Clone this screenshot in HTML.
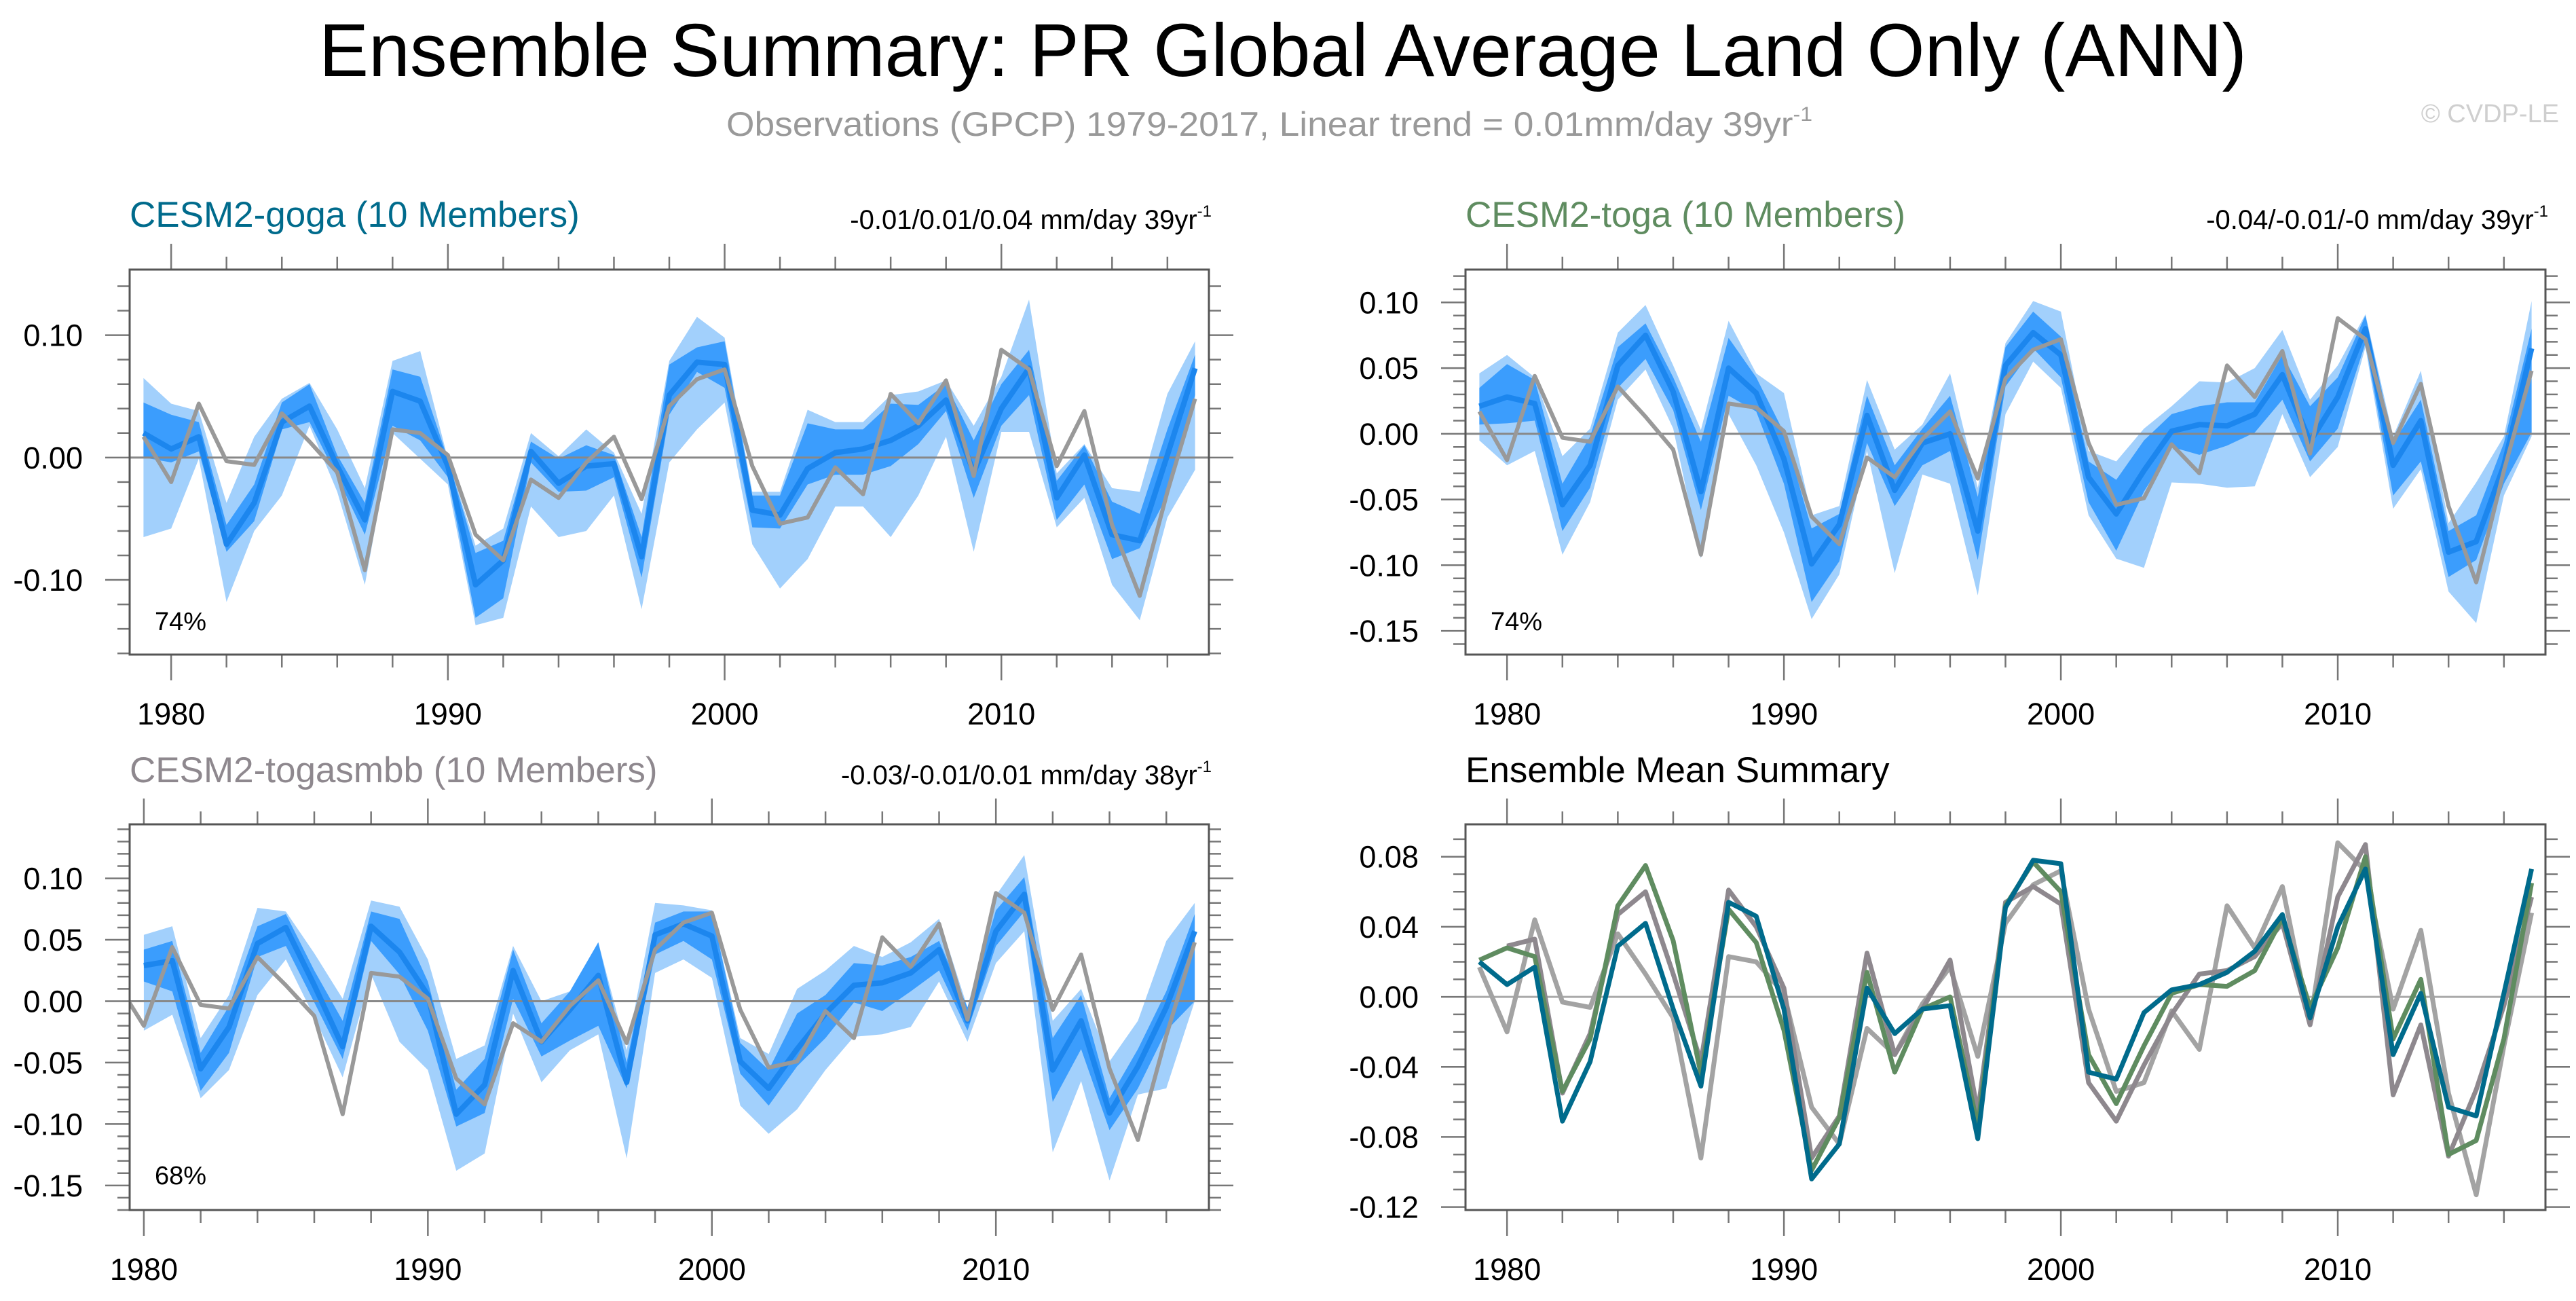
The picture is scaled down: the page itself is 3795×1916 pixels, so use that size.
<!DOCTYPE html>
<html><head><meta charset="utf-8">
<style>
html,body{margin:0;padding:0;background:#fff;}
svg{display:block;font-family:"Liberation Sans",Arial,sans-serif;}
</style></head>
<body>
<svg id="fig" width="3795" height="1916" viewBox="0 0 3795 1916" xmlns="http://www.w3.org/2000/svg">
<rect width="3795" height="1916" fill="#fff"/>
<text x="1890" y="112" font-size="110" text-anchor="middle" textLength="2840" lengthAdjust="spacingAndGlyphs" fill="#000">Ensemble Summary: PR Global Average Land Only (ANN)</text>
<text x="1070" y="200" font-size="50" fill="#999" textLength="1600" lengthAdjust="spacingAndGlyphs">Observations (GPCP) 1979-2017, Linear trend = 0.01mm/day 39yr<tspan font-size="30" dy="-22">-1</tspan></text>
<text x="3770" y="180" font-size="38" fill="#cfcfcf" text-anchor="end">© CVDP-LE</text>
<g id="panels"></g>
</svg>
<script>
// ---- data ----
const obsYears = [1979,1980,1981,1982,1983,1984,1985,1986,1987,1988,1989,1990,1991,1992,1993,1994,1995,1996,1997,1998,1999,2000,2001,2002,2003,2004,2005,2006,2007,2008,2009,2010,2011,2012,2013,2014,2015,2016,2017];
const obs = [0.017,-0.020,0.044,-0.003,-0.006,0.036,0.013,-0.012,-0.092,0.023,0.020,0.002,-0.063,-0.084,-0.018,-0.033,-0.004,0.017,-0.034,0.042,0.064,0.072,-0.007,-0.054,-0.049,-0.008,-0.030,0.052,0.028,0.063,-0.015,0.088,0.072,-0.007,0.038,-0.055,-0.113,-0.028,0.048];

const gogaYears = obsYears;
const gogaMean = [0.020,0.007,0.017,-0.071,-0.037,0.029,0.042,-0.007,-0.051,0.054,0.046,-0.007,-0.104,-0.084,0.005,-0.021,-0.007,-0.005,-0.081,0.051,0.078,0.076,-0.043,-0.047,-0.009,0.004,0.007,0.014,0.026,0.047,-0.012,0.040,0.073,-0.033,0.002,-0.063,-0.068,0.002,0.073];
const gogaInLo = [0.000,-0.004,0.005,-0.077,-0.052,0.023,0.029,-0.016,-0.063,0.026,0.014,-0.016,-0.131,-0.115,-0.004,-0.028,-0.027,-0.016,-0.098,0.035,0.070,0.057,-0.057,-0.058,-0.022,-0.014,-0.014,-0.007,0.011,0.038,-0.033,0.026,0.051,-0.051,-0.022,-0.083,-0.074,-0.031,0.051];
const gogaInHi = [0.045,0.035,0.029,-0.055,-0.022,0.045,0.060,0.002,-0.037,0.072,0.066,-0.001,-0.078,-0.068,0.013,-0.001,0.010,0.002,-0.065,0.076,0.090,0.095,-0.031,-0.031,0.028,0.023,0.023,0.044,0.043,0.060,0.014,0.060,0.088,-0.019,0.010,-0.036,-0.046,0.023,0.084];
const gogaOutLo = [-0.065,-0.058,-0.001,-0.118,-0.060,-0.031,0.026,-0.028,-0.104,0.020,-0.001,-0.022,-0.137,-0.131,-0.040,-0.065,-0.060,-0.031,-0.124,-0.004,0.023,0.045,-0.071,-0.107,-0.083,-0.040,-0.040,-0.065,-0.031,0.017,-0.077,0.021,0.021,-0.057,-0.033,-0.104,-0.133,-0.049,-0.010];
const gogaOutHi = [0.065,0.044,0.038,-0.037,0.017,0.048,0.061,0.023,-0.025,0.079,0.087,-0.001,-0.072,-0.058,0.020,0.001,0.023,0.004,-0.046,0.079,0.115,0.098,-0.028,-0.028,0.039,0.029,0.029,0.051,0.054,0.063,0.026,0.066,0.129,-0.013,0.011,-0.025,-0.028,0.052,0.095];

const togaYears = obsYears;
const togaMean = [0.021,0.028,0.023,-0.054,-0.024,0.052,0.075,0.032,-0.044,0.050,0.031,-0.019,-0.099,-0.069,0.014,-0.043,-0.007,0.000,-0.074,0.052,0.077,0.060,-0.033,-0.061,-0.028,0.002,0.007,0.006,0.015,0.045,-0.006,0.028,0.080,-0.024,0.010,-0.090,-0.082,-0.024,0.065];
const togaInLo = [0.007,0.008,0.010,-0.074,-0.041,0.035,0.057,0.018,-0.058,0.029,0.017,-0.038,-0.128,-0.097,-0.007,-0.055,-0.024,-0.013,-0.096,0.036,0.065,0.043,-0.052,-0.089,-0.044,-0.010,-0.016,-0.009,0.001,0.026,-0.021,0.004,0.069,-0.047,-0.021,-0.109,-0.096,-0.038,0.001];
const togaInHi = [0.035,0.053,0.041,-0.038,-0.002,0.066,0.084,0.043,-0.006,0.073,0.043,0.001,-0.072,-0.061,0.029,-0.024,0.004,0.029,-0.048,0.066,0.093,0.074,-0.021,-0.035,-0.005,0.015,0.021,0.024,0.024,0.060,0.021,0.043,0.090,-0.007,0.026,-0.074,-0.062,-0.007,0.080];
const togaOutLo = [-0.005,-0.024,-0.013,-0.092,-0.052,0.026,0.049,0.004,-0.095,0.015,-0.024,-0.075,-0.141,-0.107,-0.013,-0.106,-0.031,-0.038,-0.123,0.015,0.055,0.035,-0.062,-0.095,-0.102,-0.037,-0.038,-0.041,-0.040,0.015,-0.033,-0.010,0.066,-0.057,-0.027,-0.120,-0.144,-0.047,-0.002];
const togaOutHi = [0.046,0.060,0.043,-0.017,0.004,0.077,0.098,0.052,0.003,0.086,0.046,0.031,-0.062,-0.055,0.041,-0.012,0.007,0.046,-0.041,0.069,0.101,0.093,-0.013,-0.021,0.004,0.021,0.040,0.039,0.050,0.079,0.026,0.052,0.091,-0.002,0.048,-0.068,-0.037,-0.002,0.101];

const smbbYears = obsYears.slice(1);
const smbbMean = [0.029,0.033,-0.055,-0.021,0.047,0.060,0.013,-0.037,0.061,0.040,0.005,-0.092,-0.068,0.025,-0.033,-0.007,0.021,-0.066,0.054,0.063,0.053,-0.049,-0.071,-0.039,-0.010,0.013,0.015,0.023,0.042,-0.016,0.057,0.087,-0.056,-0.016,-0.091,-0.053,-0.005,0.057];
const smbbInLo = [0.016,0.008,-0.073,-0.042,0.036,0.045,-0.001,-0.047,0.049,0.022,-0.024,-0.102,-0.091,0.002,-0.045,-0.032,-0.020,-0.071,0.038,0.049,0.034,-0.059,-0.085,-0.053,-0.030,-0.001,-0.008,0.008,0.025,-0.024,0.045,0.073,-0.082,-0.039,-0.105,-0.071,-0.024,0.000];
const smbbInHi = [0.042,0.049,-0.042,-0.004,0.061,0.071,0.025,-0.016,0.073,0.067,0.016,-0.072,-0.047,0.042,-0.018,0.008,0.048,-0.050,0.064,0.073,0.073,-0.034,-0.056,-0.010,0.005,0.031,0.029,0.036,0.049,-0.005,0.074,0.101,-0.030,0.005,-0.079,-0.039,0.008,0.071];
const smbbOutLo = [-0.024,-0.011,-0.079,-0.056,0.005,0.034,-0.013,-0.062,0.022,-0.033,-0.056,-0.138,-0.124,-0.010,-0.066,-0.040,-0.027,-0.128,0.023,0.034,0.019,-0.085,-0.108,-0.088,-0.056,-0.029,-0.027,-0.021,0.016,-0.033,0.031,0.057,-0.123,-0.065,-0.146,-0.076,-0.071,0.000];
const smbbOutHi = [0.054,0.061,-0.030,0.005,0.076,0.073,0.039,0.002,0.082,0.077,0.034,-0.047,-0.036,0.045,0.000,0.008,0.048,-0.040,0.080,0.078,0.074,-0.030,-0.043,0.010,0.025,0.045,0.036,0.048,0.067,-0.005,0.086,0.119,-0.016,0.010,-0.049,-0.016,0.049,0.080];

const yTicks1 = [0.10,0.00,-0.10];
const yTicks1Labels = ["0.10","0.00","-0.10"];
const yTicks23 = [0.10,0.05,0.00,-0.05,-0.10,-0.15];
const yTicks23Labels = ["0.10","0.05","0.00","-0.05","-0.10","-0.15"];
const yTicks4 = [0.08,0.04,0.00,-0.04,-0.08,-0.12];
const yTicks4Labels = ["0.08","0.04","0.00","-0.04","-0.08","-0.12"];
const xTicks = [1980,1990,2000,2010];
const xTickLabels = ["1980","1990","2000","2010"];

// ---- drawing ----
const NS = "http://www.w3.org/2000/svg";
const root = document.getElementById('panels');
function mk(tag, attrs, parent){
  const e = document.createElementNS(NS, tag);
  for (const k in attrs) e.setAttribute(k, attrs[k]);
  (parent||root).appendChild(e);
  return e;
}
function makeAxes(p){
  const sx = v => p.x0 + (v - p.xmin)/(p.xmax - p.xmin)*(p.x1 - p.x0);
  const sy = v => p.y0 + (p.ymax - v)/(p.ymax - p.ymin)*(p.y1 - p.y0);
  return {sx, sy};
}
function linePath(xs, ys, sx, sy){
  return xs.map((x,i)=>(i?'L':'M')+sx(x).toFixed(1)+','+sy(ys[i]).toFixed(1)).join(' ');
}
function bandPath(xs, lo, hi, sx, sy){
  let d = xs.map((x,i)=>(i?'L':'M')+sx(x).toFixed(1)+','+sy(hi[i]).toFixed(1)).join(' ');
  for (let i=xs.length-1;i>=0;i--) d += ' L'+sx(xs[i]).toFixed(1)+','+sy(lo[i]).toFixed(1);
  return d+' Z';
}
function drawPanel(p, idx){
  const g = mk('g', {});
  
  
  const {sx, sy} = makeAxes(p);
  const clipId = 'clip'+idx;
  const cp = mk('clipPath', {id: clipId}, g);
  mk('rect', {x:p.x0, y:p.y0, width:p.x1-p.x0, height:p.y1-p.y0}, cp);
  const t = mk('text', {x:p.x0, y:p.ty, 'font-size':53, fill:p.titleColor}, g);
  t.textContent = p.title;
  
  
  if (p.trend){
    const tr = mk('text', {x:p.x1+4, y:p.ty+3, 'font-size':40, fill:'#000', 'text-anchor':'end'}, g);
    tr.innerHTML = p.trend + ' mm/day ' + p.trendYr + 'yr<tspan font-size="24" dy="-18">-1</tspan>';
    
    
  }
  const tickG = mk('g', {stroke:'#777', 'stroke-width':2.5}, g);
  
  
  const start = Math.ceil(p.ymin/p.yMinor - 1e-6);
  for (let k=start; k*p.yMinor <= p.ymax+1e-9; k++){
    const v = k*p.yMinor, y = sy(v);
    if (y < p.y0-0.5 || y > p.y1+0.5) continue;
    const isMaj = p.yTicks.some(t=>Math.abs(t-v)<1e-6);
    const L = isMaj?36:18;
    mk('line', {x1:p.x0-L, y1:y, x2:p.x0, y2:y}, tickG);
    mk('line', {x1:p.x1, y1:y, x2:p.x1+L, y2:y}, tickG);
  }
  p.yTicks.forEach((v,i)=>{
    const lb = mk('text', {x:p.x0-69, y:sy(v)+16, 'font-size':45, 'text-anchor':'end', fill:'#000'}, g);
    lb.textContent = p.yLabels[i];
    
    
  });
  for (let yr=1980; yr<=2016; yr+=2){
    const x = sx(yr);
    if (x < p.x0 || x > p.x1) continue;
    const isMaj = yr%10===0;
    const L = isMaj?38:19;
    mk('line', {x1:x, y1:p.y0-L, x2:x, y2:p.y0}, tickG);
    mk('line', {x1:x, y1:p.y1, x2:x, y2:p.y1+L}, tickG);
  }
  xTicks.forEach((v,i)=>{
    const lb = mk('text', {x:sx(v), y:p.y1+103, 'font-size':45, 'text-anchor':'middle', fill:'#000'}, g);
    lb.textContent = xTickLabels[i];
    
    
  });
  const plot = mk('g', {'clip-path':'url(#'+clipId+')'}, g);
  
  
  if (p.series){
    const s = p.series;
    const ob = mk('path', {d:bandPath(s.years, s.outLo, s.outHi, sx, sy), fill:'#a2d0fc', stroke:'none'}, plot);
    
    
    const ib = mk('path', {d:bandPath(s.years, s.inLo, s.inHi, sx, sy), fill:'#3b9dfd', stroke:'none'}, plot);
    
    
    const z = mk('line', {x1:p.x0, y1:sy(0), x2:p.x1, y2:sy(0), stroke:'#888', 'stroke-width':3}, plot);
    
    
    const ml = mk('path', {d:linePath(s.years, s.mean, sx, sy), fill:'none', stroke:'#1c86ee', 'stroke-width':8, 'stroke-linejoin':'round'}, plot);
    
    
    const ol = mk('path', {d:linePath(obsYears, obs, sx, sy), fill:'none', stroke:'#999', 'stroke-width':6, 'stroke-linejoin':'round'}, plot);
    
    
    const pc = mk('text', {x:p.x0+37, y:p.pcY, 'font-size':38, fill:'#000'}, g);
    pc.textContent = p.pct;
    
    
  } else {
    const z = mk('line', {x1:p.x0, y1:sy(0), x2:p.x1, y2:sy(0), stroke:'#aaa', 'stroke-width':3}, plot);
    
    
    const lo = mk('path', {d:linePath(obsYears, obs, sx, sy), fill:'none', stroke:'#a3a3a3', 'stroke-width':7, 'stroke-linejoin':'round'}, plot);
    
    
    const l3 = mk('path', {d:linePath(smbbYears, smbbMean, sx, sy), fill:'none', stroke:'#8e888e', 'stroke-width':7, 'stroke-linejoin':'round'}, plot);
    
    
    const l2 = mk('path', {d:linePath(togaYears, togaMean, sx, sy), fill:'none', stroke:'#5f8c60', 'stroke-width':7, 'stroke-linejoin':'round'}, plot);
    
    
    const l1 = mk('path', {d:linePath(gogaYears, gogaMean, sx, sy), fill:'none', stroke:'#006b8c', 'stroke-width':7, 'stroke-linejoin':'round'}, plot);
    
    
  }
  const fr = mk('rect', {x:p.x0, y:p.y0, width:p.x1-p.x0, height:p.y1-p.y0, fill:'none', stroke:'#555', 'stroke-width':3}, g);
  
  
}
const panels = [
 {name:'panel-cesm2-goga', x0:191,x1:1781,xmin:1978.5,xmax:2017.5,y0:397,y1:964,ymin:-0.161,ymax:0.1536,
  yMinor:0.02, yTicks:yTicks1, yLabels:yTicks1Labels, title:'CESM2-goga (10 Members)', titleColor:'#006b8c', ty:334,
  trend:'-0.01/0.01/0.04', trendYr:'39', pct:'74%', pcY:928,
  series:{years:gogaYears, mean:gogaMean, inLo:gogaInLo, inHi:gogaInHi, outLo:gogaOutLo, outHi:gogaOutHi}},
 {name:'panel-cesm2-toga', x0:2159,x1:3750,xmin:1978.5,xmax:2017.5,y0:397,y1:964,ymin:-0.168,ymax:0.125,
  yMinor:0.01, yTicks:yTicks23, yLabels:yTicks23Labels, title:'CESM2-toga (10 Members)', titleColor:'#5f8c60', ty:334,
  trend:'-0.04/-0.01/-0', trendYr:'39', pct:'74%', pcY:928,
  series:{years:togaYears, mean:togaMean, inLo:togaInLo, inHi:togaInHi, outLo:togaOutLo, outHi:togaOutHi}},
 {name:'panel-cesm2-togasmbb', x0:191,x1:1781,xmin:1979.5,xmax:2017.5,y0:1214,y1:1782,ymin:-0.170,ymax:0.144,
  yMinor:0.01, yTicks:yTicks23, yLabels:yTicks23Labels, title:'CESM2-togasmbb (10 Members)', titleColor:'#8e888e', ty:1152,
  trend:'-0.03/-0.01/0.01', trendYr:'38', pct:'68%', pcY:1744,
  series:{years:smbbYears, mean:smbbMean, inLo:smbbInLo, inHi:smbbInHi, outLo:smbbOutLo, outHi:smbbOutHi}},
 {name:'panel-ensemble-mean-summary', x0:2159,x1:3750,xmin:1978.5,xmax:2017.5,y0:1214,y1:1782,ymin:-0.1217,ymax:0.0985,
  yMinor:0.01, yTicks:yTicks4, yLabels:yTicks4Labels, title:'Ensemble Mean Summary', titleColor:'#000', ty:1152,
  trend:null, series:null}
];
panels.forEach((p,i)=>drawPanel(p,i));
</script>
</body></html>
